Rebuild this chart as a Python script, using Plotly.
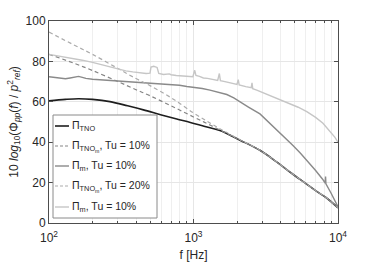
import plotly.graph_objects as go

# ---- data ----
f_tno = [100, 130, 160, 200, 264, 350, 450, 600, 766, 950, 1200, 1524, 2100, 2884, 3800, 4800, 6000, 7000, 8300, 10000]
pi_tno = [60.5, 61.2, 61.5, 61.2, 60.1, 58.0, 56.0, 53.5, 51.5, 49.8, 47.8, 45.8, 41.0, 36.0, 30.0, 24.5, 19.5, 16.0, 12.5, 7.5]

f_tnom10 = [100, 150, 200, 300, 400, 500, 700, 1000, 1300, 1700, 2100, 2884, 3800, 4800, 6000, 7000, 8300, 10000]
pi_tnom10 = [83.5, 79.0, 75.5, 70.0, 66.0, 63.0, 58.0, 52.5, 48.5, 44.3, 41.0, 36.0, 30.0, 24.5, 19.5, 16.0, 12.5, 7.5]

f_tnom20 = [100, 150, 200, 300, 400, 500, 700, 1000, 1300, 1600, 2100, 2884, 3800, 4800, 6000, 7000, 8300, 10000]
pi_tnom20 = [94.5, 88.0, 83.5, 76.5, 71.5, 68.0, 62.0, 54.5, 49.5, 45.8, 41.2, 36.0, 30.0, 24.5, 19.5, 16.0, 12.5, 7.5]

f_m10 = [100, 110, 120, 130, 140, 150, 160, 170, 180, 200, 220, 250, 280, 320, 360, 400, 450, 500, 560,
         630, 700, 800, 900, 1000, 1150, 1300, 1500, 1700, 1900, 2100, 2400, 2884, 3200, 3565, 4000, 4500,
         4900, 5500, 6200, 7000, 7800, 8150, 8200, 8250, 9000, 10000]
pi_m10 = [72.4, 72.0, 71.8, 71.4, 71.8, 72.3, 72.6, 72.1, 71.6, 71.2, 71.0, 70.6, 70.4, 70.0, 69.8, 69.6, 69.3, 69.2, 69.0,
          68.8, 68.5, 68.2, 67.6, 67.2, 66.6, 65.8, 64.6, 63.6, 61.9, 59.8, 57.4, 54.0, 51.0, 47.7, 44.5, 41.0,
          38.2, 34.5, 30.5, 26.0, 21.8, 19.8, 23.0, 19.4, 14.5, 8.0]

f_m2 = [100, 110, 120, 135, 150, 170, 200, 230, 260, 300, 340, 380, 420, 470, 500, 508, 530, 560, 575, 620,
        680, 700, 760, 820, 900, 990, 1020, 1040, 1100, 1170, 1250, 1350, 1470, 1510, 1535, 1650, 1800, 2000,
        2040, 2070, 2300, 2510, 2540, 2570, 2740, 3100, 3565, 4100, 4656, 5300, 6080, 7000, 7870, 8800, 9500, 10000]
pi_m2 = [83.5, 83.0, 82.6, 82.0, 81.4, 80.6, 79.5, 78.4, 77.4, 76.3, 75.3, 74.8, 74.4, 74.0, 74.2, 77.2, 77.6, 77.0, 74.0, 73.5,
         73.8, 73.4, 73.0, 72.8, 72.6, 72.4, 75.6, 73.0, 72.6, 71.8, 71.6, 71.2, 70.6, 74.0, 70.5, 70.0, 69.5, 68.6,
         71.0, 68.4, 67.5, 67.0, 69.4, 66.5, 65.8, 64.2, 62.5, 60.8, 59.3, 57.3, 55.1, 52.3, 49.4, 45.5, 42.5, 40.0]

series_names = ["Π<sub>TNO</sub>",
                "Π<sub>TNO<sub>m</sub></sub>, Tu = 10%",
                "Π<sub>m</sub>, Tu = 10%",
                "Π<sub>TNO<sub>m</sub></sub>, Tu = 20%",
                "Π<sub>m</sub>, Tu = 10%"]

x_ticks = [100, 1000, 10000]
x_ticktext = ["10<sup>2</sup>", "10<sup>3</sup>", "10<sup>4</sup>"]
y_ticks = [0, 20, 40, 60, 80, 100]
minor_vals = [m * d for d in (100, 1000) for m in range(2, 10)]

FONT = "Liberation Sans, Arial, sans-serif"
styles = [dict(color="#1e1e1e", width=1.6),
          dict(color="#858585", width=1.2, dash="4px,3px"),
          dict(color="#8a8a8a", width=1.4),
          dict(color="#ababab", width=1.2, dash="4px,3px"),
          dict(color="#c6c6c6", width=1.4)]
shapes_kind = ["spline", "spline", "linear", "spline", "linear"]

xs = [f_tno, f_tnom10, f_m10, f_tnom20, f_m2]
ys = [pi_tno, pi_tnom10, pi_m10, pi_tnom20, pi_m2]

fig = go.Figure()
for x, y, nm, st, sk in zip(xs, ys, series_names, styles, shapes_kind):
    fig.add_trace(go.Scatter(x=x, y=y, mode="lines", name=nm, showlegend=False,
                             line=dict(shape=sk, **st)))

# ---- hand-built legend (MATLAB-like compact box) ----
W, H = 374, 262
L, R, T, B = 49, 36, 21, 39
pw, ph = W - L - R, H - T - B
def px(xp):
    return (xp - L) / pw
def py(yp):
    return (H - B - yp) / ph

shapes = [dict(type="rect", xref="paper", yref="paper",
               x0=px(53), x1=px(157), y0=py(218), y1=py(115),
               fillcolor="white", line=dict(color="#8a8a8a", width=1), layer="above")]
annotations = []
row_y = [126, 146, 166, 186, 207]
for ry, nm, st in zip(row_y, series_names, styles):
    ln = dict(color=st["color"], width=st["width"])
    if "dash" in st:
        ln["dash"] = "3px,2px"
    shapes.append(dict(type="line", xref="paper", yref="paper",
                       x0=px(55), x1=px(69), y0=py(ry), y1=py(ry), line=ln, layer="above"))
    annotations.append(dict(xref="paper", yref="paper", x=px(70), y=py(ry),
                            xanchor="left", yanchor="middle", text=nm, showarrow=False,
                            font=dict(size=10.5, color="#262626")))

fig.update_layout(
    width=W, height=H,
    margin=dict(l=L, r=R, t=T, b=B),
    paper_bgcolor="white", plot_bgcolor="white",
    font=dict(family=FONT, size=12, color="#262626"),
    showlegend=False,
    shapes=shapes, annotations=annotations,
    xaxis=dict(type="log", range=[2, 4], tickvals=x_ticks, ticktext=x_ticktext,
               automargin=False,
               showgrid=True, gridcolor="#e6e6e6", gridwidth=1,
               minor=dict(tickvals=minor_vals, showgrid=True, gridcolor="#efefef",
                          ticks="inside", ticklen=2, tickcolor="#4d4d4d"),
               ticks="inside", ticklen=4, tickcolor="#4d4d4d",
               showline=True, linecolor="#4d4d4d", linewidth=1, mirror="ticks",
               zeroline=False, ticklabelstandoff=4,
               title=dict(text="f [Hz]", standoff=7, font=dict(size=12)),
               tickfont=dict(size=12)),
    yaxis=dict(range=[0, 100], tickvals=y_ticks,
               showgrid=True, gridcolor="#e6e6e6", gridwidth=1,
               ticks="inside", ticklen=4, tickcolor="#4d4d4d",
               showline=True, linecolor="#4d4d4d", linewidth=1, mirror="ticks",
               zeroline=False,
               title=dict(text="10 <i>log</i><sub>10</sub>(Φ<sub><i>pp</i></sub>(<i>f</i>) / <i>p</i><sup>2</sup><sub><i>ref</i></sub>)",
                          standoff=4, font=dict(size=12)),
               tickfont=dict(size=12)),
)

fig.write_html("out.html", config={"displayModeBar": False},
               post_script="document.body.style.margin='0';")
